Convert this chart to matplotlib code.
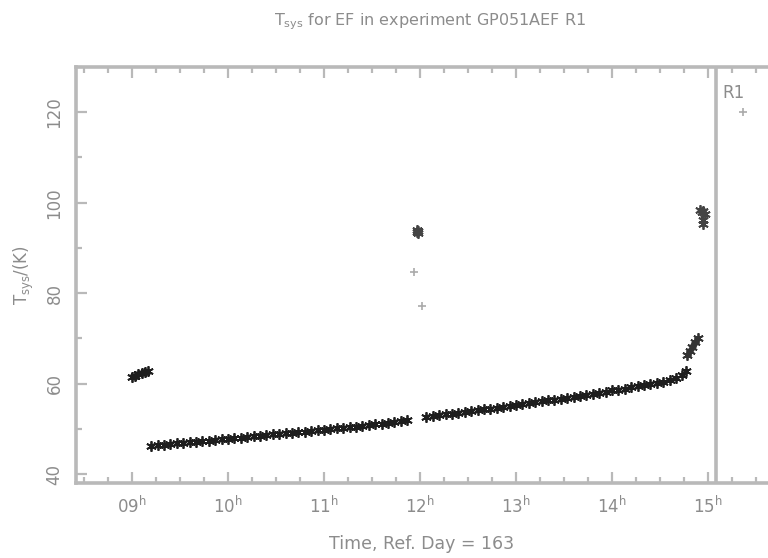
import matplotlib

matplotlib.use("Agg")
import matplotlib.pyplot as plt
from matplotlib.ticker import FixedLocator, MultipleLocator, FuncFormatter

# ---- Tsys samples (UT hh:mm, K) ------------------------------------------
EARLY_TIME = ["09:00", "09:02", "09:04", "09:06", "09:08", "09:10"]
EARLY_TSYS = [61.5, 61.8, 62.1, 62.4, 62.6, 62.9]

SEG1_TIME = ["09:12", "09:16", "09:20", "09:24", "09:28", "09:32", "09:36", "09:40",
             "09:44", "09:48", "09:52", "09:56", "10:00", "10:04", "10:08", "10:12",
             "10:16", "10:20", "10:24", "10:28", "10:32", "10:36", "10:40", "10:44",
             "10:48", "10:52", "10:56", "11:00", "11:04", "11:08", "11:12", "11:16",
             "11:20", "11:24", "11:28", "11:32", "11:36", "11:40", "11:44", "11:48",
             "11:52"]
SEG1_TSYS = [46.3, 46.5, 46.5, 46.7, 46.9, 46.9, 47.1, 47.2,
             47.4, 47.4, 47.6, 47.7, 47.8, 48.0, 48.0, 48.2,
             48.4, 48.5, 48.6, 48.8, 48.9, 49.0, 49.2, 49.3,
             49.4, 49.6, 49.7, 49.8, 50.0, 50.1, 50.2, 50.4,
             50.5, 50.7, 50.8, 51.0, 51.1, 51.3, 51.5, 51.7,
             51.9]

SPIKE_TIME = ["11:56", "11:58", "11:58", "11:59", "11:59", "12:01"]
SPIKE_TSYS = [84.6, 93.5, 94.0, 93.2, 93.7, 77.1]

SEG2_TIME = ["12:04", "12:08", "12:12", "12:16", "12:20", "12:24", "12:28", "12:32",
             "12:36", "12:40", "12:44", "12:48", "12:52", "12:56", "13:00", "13:04",
             "13:08", "13:12", "13:16", "13:20", "13:24", "13:28", "13:32", "13:36",
             "13:40", "13:44", "13:48", "13:52", "13:56", "14:00", "14:04", "14:08",
             "14:12", "14:16", "14:20", "14:24", "14:28", "14:32", "14:36", "14:40",
             "14:44", "14:46"]
SEG2_TSYS = [52.6, 52.8, 53.0, 53.2, 53.4, 53.6, 53.8, 54.0,
             54.1, 54.3, 54.5, 54.7, 54.9, 55.1, 55.3, 55.5,
             55.7, 55.9, 56.1, 56.3, 56.5, 56.7, 56.9, 57.1,
             57.3, 57.5, 57.8, 58.0, 58.2, 58.5, 58.7, 58.9,
             59.2, 59.4, 59.6, 59.9, 60.1, 60.4, 60.8, 61.3,
             61.9, 62.8]

RISE_TIME = ["14:47", "14:49", "14:50", "14:52", "14:54"]
RISE_TSYS = [66.3, 67.2, 68.2, 69.2, 70.0]

END_TIME = ["14:55", "14:56", "14:57", "14:57", "14:57", "14:58"]
END_TSYS = [98.3, 97.9, 98.1, 96.2, 95.3, 97.6]

R1_TIME = ["15:22"]
R1_TSYS = [120.0]

R1_START = "15:05"
HOUR_TICKS = [9, 10, 11, 12, 13, 14, 15]
TSYS_TICKS = [40, 60, 80, 100, 120]

GREY = "#b9b9b9"
TEXT = "#8c8c8c"


def hours(stamps):
    out = []
    for s in stamps:
        h, m = s.split(":")
        out.append(int(h) + int(m) / 60.0)
    return out


plt.rcParams["font.family"] = ["DejaVu Sans"]
plt.rcParams["mathtext.default"] = "regular"

fig = plt.figure(figsize=(7.68, 5.58), dpi=100)
ax = fig.add_axes([0.099, 0.134, 0.901, 0.746])

mk = dict(marker=(6, 2, 0), linestyle="none", markersize=7.5, markeredgewidth=1.3)
ax.plot(hours(EARLY_TIME), EARLY_TSYS, color="#1e1e1e", **mk)
ax.plot(hours(SEG1_TIME), SEG1_TSYS, color="#1e1e1e", **mk)
ax.plot(hours(SEG2_TIME), SEG2_TSYS, color="#1e1e1e", **mk)
ax.plot(hours(RISE_TIME), RISE_TSYS, color="#333333", **mk)
ax.plot(hours(SPIKE_TIME[1:5]), SPIKE_TSYS[1:5], color="#444444", **mk)
ax.plot(hours(END_TIME), END_TSYS, color="#444444", **mk)
ax.plot(hours([SPIKE_TIME[0], SPIKE_TIME[5]]), [SPIKE_TSYS[0], SPIKE_TSYS[5]],
        color="#aaaaaa", marker="+", linestyle="none", markersize=6, markeredgewidth=1.2)
ax.plot(hours(R1_TIME), R1_TSYS, color="#aaaaaa", marker="+", linestyle="none",
        markersize=6, markeredgewidth=1.2)

# subarray boundary
t_r1 = hours([R1_START])[0]
ax.axvline(t_r1, color=GREY, lw=2.6)
ax.text(t_r1 + 0.07, 126.3, "R1", color=TEXT, fontsize=12, ha="left", va="top")

ax.set_xlim(8.417, 15.625)
ax.set_ylim(38.0, 130.0)

ax.xaxis.set_major_locator(FixedLocator(HOUR_TICKS))
ax.xaxis.set_minor_locator(MultipleLocator(0.25))
ax.xaxis.set_major_formatter(FuncFormatter(lambda v, p: "%02d$^{h}$" % int(round(v))))
ax.yaxis.set_major_locator(FixedLocator(TSYS_TICKS))
ax.yaxis.set_minor_locator(MultipleLocator(10))

ax.tick_params(which="both", direction="in", top=True, right=False, color=GREY,
               labelcolor=TEXT, width=1.6)
ax.tick_params(which="major", length=8, labelsize=12)
ax.tick_params(which="minor", length=4)
ax.tick_params(axis="x", which="major", pad=9)
ax.tick_params(axis="y", which="major", pad=9)
for lab in ax.get_yticklabels():
    lab.set_rotation(90)
    lab.set_va("center")

for side in ("left", "bottom", "top"):
    ax.spines[side].set_color(GREY)
    ax.spines[side].set_linewidth(2.6)
ax.spines["right"].set_visible(False)

ax.set_xlabel("Time, Ref. Day = 163", color=TEXT, fontsize=12.5, labelpad=13)
ax.set_ylabel("T$_{sys}$/(K)", color=TEXT, fontsize=12, labelpad=7)
fig.text(0.56, 0.962, "T$_{sys}$ for EF in experiment GP051AEF R1", color=TEXT,
         fontsize=11.5, ha="center", va="center")

fig.savefig("out.png", dpi=100, facecolor="white")
